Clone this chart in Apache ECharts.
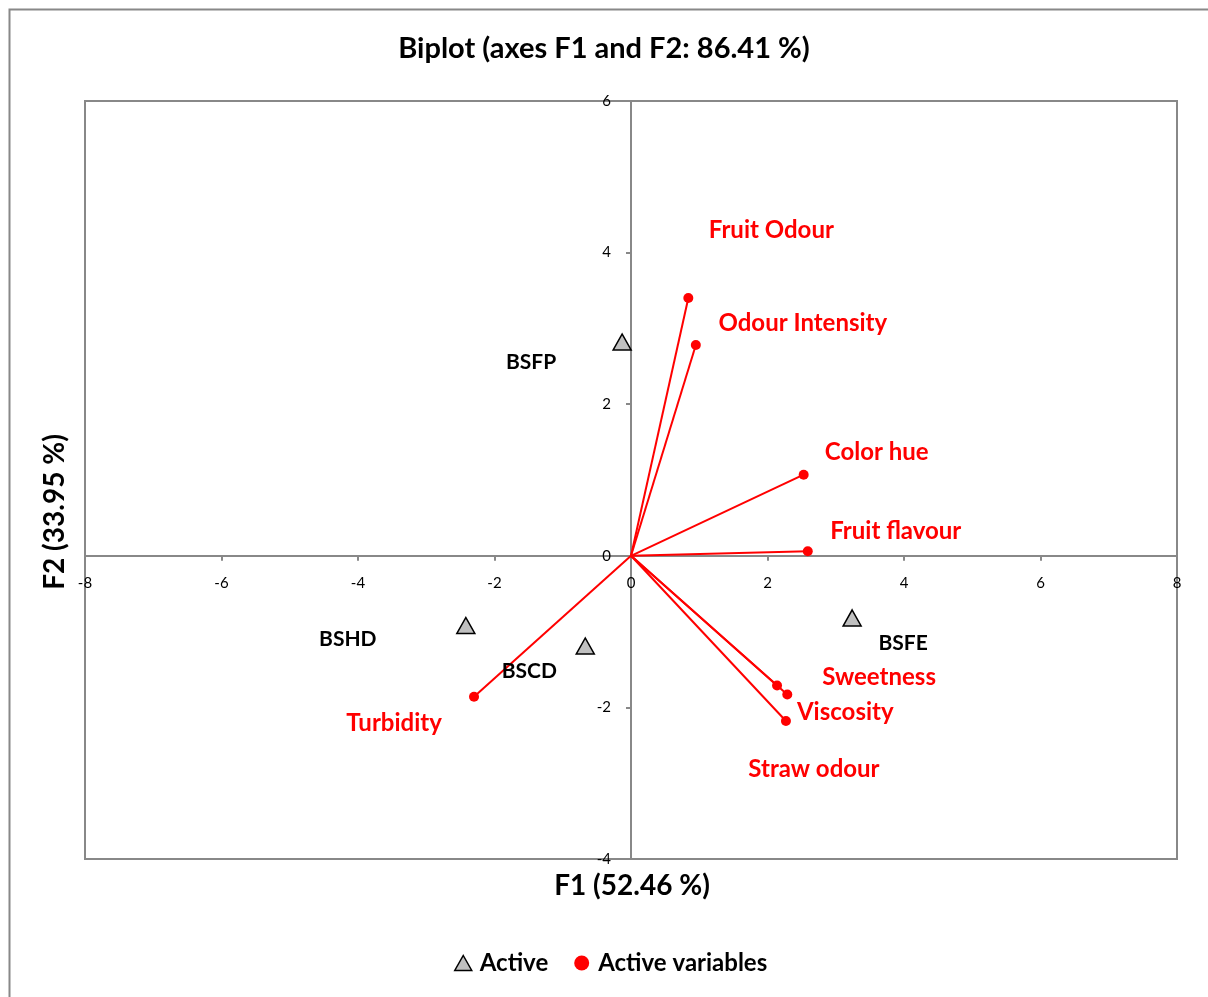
<!DOCTYPE html>
<html>
<head>
<meta charset="utf-8">
<script src="https://cdn.jsdelivr.net/npm/echarts@6/dist/echarts.min.js"></script>
<style>html,body{margin:0;padding:0;background:#fff;}#c{width:1208px;height:997px;}</style>
</head>
<body>
<div id="c"></div>
<script>
// Observations (Active)
const obsNames = ['BSFP', 'BSHD', 'BSCD', 'BSFE'];
const obsX = [-0.13, -2.42, -0.67, 3.24];
const obsY = [2.82, -0.92, -1.19, -0.82];
// Variables (Active variables)
const varNames = ['Fruit Odour', 'Odour Intensity', 'Color hue', 'Fruit flavour', 'Sweetness', 'Viscosity', 'Straw odour', 'Turbidity'];
const varX = [0.84, 0.95, 2.53, 2.59, 2.14, 2.29, 2.27, -2.30];
const varY = [3.40, 2.78, 1.07, 0.06, -1.71, -1.83, -2.18, -1.86];
// Axis ranges / ticks
const xRange = [-8, 8], xStep = 2;
const yRange = [-4, 6], yStep = 2;
const titleText = 'Biplot (axes F1 and F2: 86.41 %)';
const xTitle = 'F1 (52.46 %)';
const yTitle = 'F2 (33.95 %)';
const legendNames = ['Active', 'Active variables'];

const FONT = 'Lato, "Open Sans", sans-serif';
const RED = '#ff0000';
// label offsets (styling, pixels)
const varLabelOffset = {
  'Fruit Odour': [83, -68], 'Odour Intensity': [107, -22], 'Color hue': [73, -22],
  'Fruit flavour': [88, -20], 'Sweetness': [102, -8], 'Viscosity': [58, 18],
  'Straw odour': [28, 48], 'Turbidity': [-80, 26]
};
const obsLabelOffset = { 'BSFP': [-91, 20], 'BSHD': [-118, 14], 'BSCD': [-56, 25], 'BSFE': [51, 25] };

// grid geometry
const G = { left: 85, right: 31, top: 101, bottom: 138 };
const W = 1208, H = 997;
const gw = W - G.left - G.right, gh = H - G.top - G.bottom;
// offsets so that the axes (with their labels) sit on the zero lines
const xAxisOffset = -gh * (0 - yRange[0]) / (yRange[1] - yRange[0]);
const yAxisOffset = -gw * (0 - xRange[0]) / (xRange[1] - xRange[0]);

const chart = echarts.init(document.getElementById('c'));
const series = [];
varNames.forEach((n, i) => {
  series.push({
    type: 'line', data: [[0, 0], [varX[i], varY[i]]], showSymbol: false, symbol: 'none',
    lineStyle: { color: RED, width: 2 }, silent: true, z: 2
  });
});
series.push({
  name: legendNames[1], type: 'scatter', symbol: 'circle', symbolSize: 10,
  itemStyle: { color: RED, opacity: 1 }, z: 4,
  data: varNames.map((n, i) => ({
    name: n, value: [varX[i], varY[i]],
    label: { show: true, formatter: n, position: 'inside', offset: varLabelOffset[n],
      color: RED, fontFamily: FONT, fontWeight: 'bold', fontSize: 24 }
  }))
});
series.push({
  name: legendNames[0], type: 'scatter', symbol: 'triangle', symbolSize: [18, 16],
  itemStyle: { color: '#c0c0c0', borderColor: '#000', borderWidth: 1.5, opacity: 1 }, z: 5,
  data: obsNames.map((n, i) => ({
    name: n, value: [obsX[i], obsY[i]],
    label: { show: true, formatter: n, position: 'inside', offset: obsLabelOffset[n],
      color: '#000', fontFamily: FONT, fontWeight: 'bold', fontSize: 21 }
  }))
});

const axisCommon = {
  axisTick: { show: true, length: 5, lineStyle: { color: '#888', width: 2 } },
  axisLabel: { color: '#000', fontFamily: FONT, fontSize: 15, margin: 20 },
  splitLine: { show: false }
};

chart.setOption({
  animation: false,
  backgroundColor: '#fff',
  title: { text: titleText, left: 'center', top: 29,
    textStyle: { fontFamily: FONT, fontWeight: 'bold', fontSize: 29, color: '#000' } },
  legend: {
    data: [
      { name: legendNames[0], icon: 'triangle', itemStyle: { color: '#c0c0c0', borderColor: '#000', borderWidth: 1.5 } },
      { name: legendNames[1], icon: 'circle', itemStyle: { color: RED } }
    ],
    bottom: 17, left: 449, itemGap: 26, itemWidth: 17, itemHeight: 15,
    textStyle: { fontFamily: FONT, fontWeight: 'bold', fontSize: 24, color: '#000', padding: [0, 0, 0, 3] }
  },
  grid: { left: G.left, right: G.right, top: G.top, bottom: G.bottom, show: true, borderColor: '#888', borderWidth: 2, containLabel: false },
  xAxis: Object.assign({
    type: 'value', min: xRange[0], max: xRange[1], interval: xStep, position: 'bottom',
    offset: xAxisOffset,
    axisLine: { onZero: false, lineStyle: { color: '#888', width: 2 } }
  }, axisCommon),
  yAxis: Object.assign({
    type: 'value', min: yRange[0], max: yRange[1], interval: yStep, position: 'left',
    offset: yAxisOffset,
    axisLine: { onZero: false, lineStyle: { color: '#888', width: 2 } }
  }, axisCommon),
  graphic: [
    { type: 'rect', left: 7, top: 7, shape: { width: 1220, height: 1010 }, style: { fill: 'none', stroke: '#888', lineWidth: 2 }, silent: true, z: -1 },
    { type: 'text', x: 632, y: 886, style: { text: xTitle, font: 'bold 28px ' + FONT, fill: '#000', align: 'center', verticalAlign: 'middle' } },
    { type: 'text', x: 55, y: 512, rotation: Math.PI / 2, style: { text: yTitle, font: 'bold 28px ' + FONT, fill: '#000', align: 'center', verticalAlign: 'middle' } }
  ],
  series: series
});
</script>
</body>
</html>
